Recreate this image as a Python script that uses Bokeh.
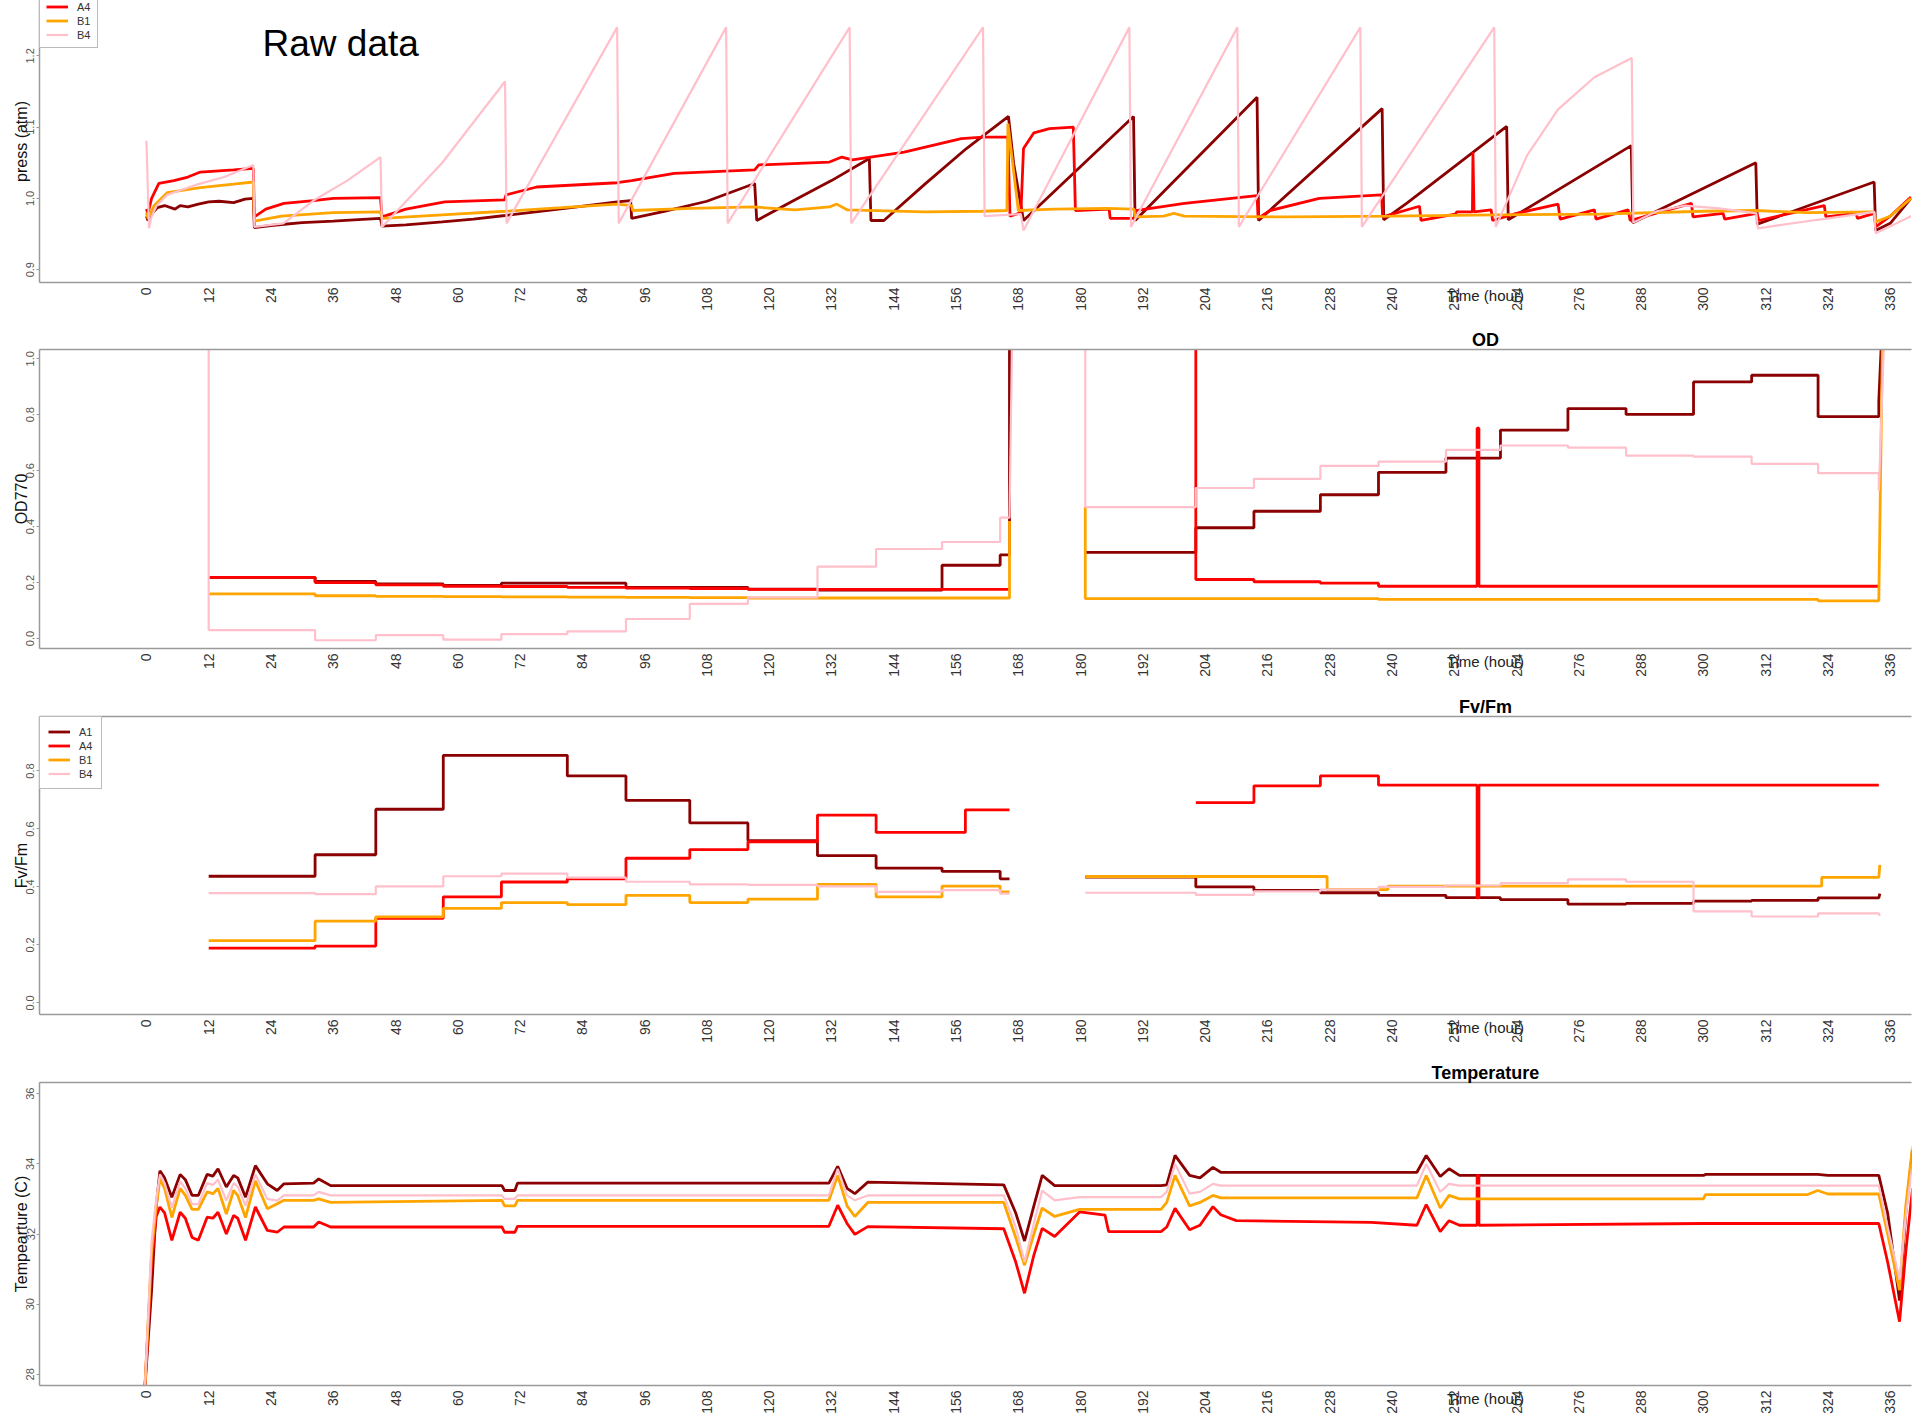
import math
from bokeh.plotting import figure
from bokeh.models import (Range1d, FixedTicker, LinearAxis, Label, Legend,
                          LegendItem, PrintfTickFormatter)
from bokeh.layouts import column
from bokeh.embed import file_html
from bokeh.resources import INLINE

NAN = float("nan")

# ---------------- series / ticks ----------------
names = ["A1", "A4", "B1", "B4"]
colors = ["#8b0000", "#ff0000", "#ffa500", "#ffc0cb"]
widths = [2.8, 2.8, 2.8, 2.2]
x_ticks = list(range(0, 337, 12))
label_pos = 258          # hour at which panel titles / "Time (hour)" are centred

# ---------------- pressure (atm) ----------------
press_A1_t = [0.0, 0.3, 1.0, 2.1, 3.5, 5.5, 6.5, 8.0, 10.0, 12.0, 14.0, 16.8, 19.0, 20.6, 20.8, 24.0, 30.0, 36.0, 40.0, 45.1, 45.4, 50.0, 57.0, 63.0, 69.1, 75.0, 83.0, 90.7, 93.3, 93.5, 100.0, 108.0, 117.2, 117.6, 125.0, 132.0, 139.3, 139.6, 142.1, 150.0, 158.0, 166.1, 167.1, 169.0, 190.2, 190.5, 214.0, 214.3, 238.1, 238.4, 243.0, 262.1, 262.4, 286.1, 286.4, 310.1, 310.4, 332.9, 333.2, 336.0, 340.0]
press_A1_v = [0.975, 0.969, 0.978, 0.987, 0.990, 0.985, 0.990, 0.988, 0.992, 0.995, 0.996, 0.994, 0.999, 1.000, 0.959, 0.962, 0.966, 0.968, 0.970, 0.972, 0.961, 0.963, 0.967, 0.971, 0.976, 0.981, 0.988, 0.995, 0.997, 0.972, 0.982, 0.996, 1.021, 0.969, 0.998, 1.025, 1.056, 0.969, 0.969, 1.020, 1.070, 1.115, 1.049, 0.969, 1.115, 0.969, 1.142, 0.969, 1.126, 0.970, 0.994, 1.101, 0.970, 1.074, 0.966, 1.050, 0.964, 1.023, 0.955, 0.965, 1.000]

press_A4_t = [0.0, 0.3, 1.0, 2.4, 5.3, 8.0, 10.4, 16.8, 20.6, 20.8, 23.0, 26.5, 32.2, 36.0, 45.1, 45.4, 50.0, 57.5, 69.0, 69.3, 75.2, 90.7, 93.5, 101.7, 117.2, 118.0, 131.6, 134.0, 136.0, 146.0, 157.0, 161.2, 166.0, 166.4, 168.5, 169.0, 171.0, 174.0, 178.6, 179.0, 185.5, 185.7, 190.3, 190.6, 200.0, 214.0, 214.2, 216.5, 226.0, 238.0, 238.2, 245.3, 245.6, 252.2, 252.5, 255.5, 255.6, 255.8, 259.1, 259.4, 264.0, 272.0, 272.4, 279.0, 279.3, 285.5, 285.9, 297.7, 298.0, 303.8, 304.1, 310.3, 310.7, 323.3, 323.6, 329.4, 329.7, 332.9, 333.2, 336.0, 340.0]
press_A4_v = [0.985, 0.979, 1.000, 1.021, 1.025, 1.030, 1.037, 1.040, 1.042, 0.974, 0.985, 0.993, 0.997, 1.000, 1.001, 0.974, 0.985, 0.995, 0.998, 1.005, 1.016, 1.022, 1.025, 1.035, 1.040, 1.047, 1.051, 1.058, 1.054, 1.065, 1.084, 1.086, 1.086, 0.975, 0.980, 1.070, 1.092, 1.098, 1.100, 0.983, 0.985, 0.972, 0.972, 0.983, 0.993, 1.004, 0.972, 0.983, 1.000, 1.005, 0.974, 0.989, 0.969, 0.978, 0.981, 0.981, 1.065, 0.981, 0.984, 0.969, 0.979, 0.992, 0.971, 0.984, 0.971, 0.984, 0.969, 0.993, 0.974, 0.979, 0.971, 0.979, 0.969, 0.990, 0.974, 0.979, 0.972, 0.979, 0.960, 0.975, 1.002]

press_B1_t = [0.0, 0.3, 1.5, 4.0, 10.4, 16.8, 20.6, 20.8, 26.0, 36.0, 45.1, 45.4, 57.0, 69.1, 80.0, 90.7, 93.5, 93.7, 105.0, 117.0, 125.0, 131.6, 133.0, 135.0, 150.0, 161.0, 165.8, 166.0, 168.0, 175.0, 185.0, 190.3, 190.5, 196.0, 198.0, 200.0, 220.0, 240.0, 260.0, 280.0, 300.0, 310.0, 320.0, 332.9, 333.2, 336.0, 340.0]
press_B1_v = [0.980, 0.972, 0.990, 1.008, 1.015, 1.020, 1.023, 0.968, 0.975, 0.980, 0.981, 0.972, 0.977, 0.982, 0.987, 0.992, 0.990, 0.983, 0.986, 0.988, 0.984, 0.988, 0.992, 0.984, 0.981, 0.982, 0.983, 1.105, 0.983, 0.985, 0.986, 0.985, 0.974, 0.975, 0.979, 0.975, 0.974, 0.975, 0.977, 0.978, 0.982, 0.983, 0.980, 0.981, 0.967, 0.975, 1.000]

press_B4_t = [0.0, 0.5, 1.0, 2.0, 4.0, 6.0, 10.0, 15.0, 20.6, 20.8, 26.4, 32.2, 38.7, 45.1, 45.4, 57.0, 69.1, 69.4, 90.7, 91.0, 111.7, 112.0, 135.5, 135.8, 161.2, 161.5, 168.5, 169.0, 189.4, 189.7, 210.2, 210.5, 233.9, 234.2, 259.7, 260.0, 266.0, 272.0, 279.0, 286.2, 286.5, 291.0, 296.5, 303.0, 310.2, 310.5, 322.0, 332.9, 333.2, 340.0]
press_B4_v = [1.081, 0.958, 0.975, 0.990, 1.005, 1.010, 1.020, 1.030, 1.047, 0.960, 0.965, 0.997, 1.025, 1.058, 0.960, 1.050, 1.164, 0.965, 1.240, 0.965, 1.240, 0.965, 1.240, 0.965, 1.240, 0.975, 0.978, 0.955, 1.240, 0.960, 1.240, 0.960, 1.240, 0.960, 1.240, 0.960, 1.060, 1.125, 1.170, 1.197, 0.966, 0.982, 0.990, 0.986, 0.979, 0.958, 0.970, 0.981, 0.951, 0.975]

# ---------------- OD770 (step measurements) ----------------
od_pre_t = [12.0, 32.5, 44.2, 57.2, 68.4, 81.1, 92.4, 104.7, 115.9, 129.3, 140.6, 153.3, 164.5, 166.3]
od_post_t = [180.9, 202.2, 213.4, 226.2, 237.4, 250.4, 260.9, 273.9, 285.1, 298.1, 309.3, 322.1, 333.8]
od_A1_pre = [0.219, 0.204, 0.195, 0.190, 0.198, 0.198, 0.183, 0.183, 0.177, 0.173, 0.173, 0.262, 0.299]
od_A4_pre = [0.219, 0.200, 0.192, 0.187, 0.186, 0.183, 0.180, 0.179, 0.176, 0.176, 0.176, 0.176, 0.176]
od_B1_pre = [0.160, 0.153, 0.151, 0.150, 0.149, 0.148, 0.147, 0.146, 0.145, 0.145, 0.145, 0.145, 0.145]
od_B4_pre = [0.030, -0.006, 0.012, -0.004, 0.016, 0.026, 0.070, 0.124, 0.147, 0.257, 0.320, 0.345, 0.432]
od_A1_post = [0.308, 0.396, 0.455, 0.514, 0.594, 0.645, 0.745, 0.822, 0.801, 0.917, 0.941, 0.793]
od_A4_post_t = [202.2, 213.4, 226.2, 237.4, 333.8]
od_A4_post = [0.211, 0.203, 0.198, 0.187]
od_B1_post_t = [180.9, 237.4, 322.1, 333.8]
od_B1_post = [0.143, 0.140, 0.135]
od_B4_post = [0.470, 0.538, 0.571, 0.617, 0.632, 0.674, 0.690, 0.682, 0.654, 0.650, 0.624, 0.591]
od_off = 1.06          # readings above the top of the panel
od_B1_jump = 0.42
od_B1_start = 0.47
od_A1_end = 0.85
od_B4_end = 0.527

# ---------------- Fv/Fm ----------------
fv_pre_t = od_pre_t
fv_post_t = od_post_t
fv_A1_pre = [0.437, 0.511, 0.668, 0.854, 0.854, 0.783, 0.699, 0.621, 0.560, 0.508, 0.465, 0.454, 0.428]
fv_A4_pre_t = [12.0, 32.5, 44.2, 57.2, 68.4, 81.1, 92.4, 104.7, 115.9, 129.3, 140.6, 157.8, 166.3]
fv_A4_pre = [0.189, 0.196, 0.292, 0.366, 0.417, 0.428, 0.499, 0.529, 0.556, 0.648, 0.588, 0.666]
fv_B1_pre = [0.215, 0.282, 0.297, 0.326, 0.346, 0.339, 0.371, 0.346, 0.358, 0.409, 0.366, 0.403, 0.383]
fv_B4_pre = [0.379, 0.375, 0.402, 0.437, 0.446, 0.432, 0.418, 0.409, 0.407, 0.402, 0.383, 0.389, 0.377]
fv_A1_post = [0.434, 0.400, 0.388, 0.380, 0.371, 0.363, 0.356, 0.341, 0.343, 0.351, 0.354, 0.362]
fv_A4_post_t = [202.2, 213.4, 226.2, 237.4, 333.8]
fv_A4_post = [0.691, 0.749, 0.783, 0.751]
fv_B1_post_t = [180.9, 227.5, 239.2, 322.8, 333.8]
fv_B1_post = [0.436, 0.391, 0.403, 0.433]
fv_B4_post = [0.380, 0.373, 0.385, 0.391, 0.400, 0.405, 0.413, 0.426, 0.418, 0.316, 0.298, 0.309]
fv_end = [0.377, None, 0.476, 0.300]

# ---------------- Temperature (C) ----------------
temp_t = [-0.3, 1.0, 1.9, 2.6, 3.5, 4.9, 6.5, 7.5, 8.8, 10.0, 11.7, 12.8, 13.8, 15.4, 16.8, 17.6, 19.1, 21.0, 23.3, 25.2, 26.5, 32.2, 33.2, 35.5, 68.5, 69.0, 71.0, 71.5, 131.5, 133.2, 135.0, 136.5, 139.0, 165.2, 167.5, 169.2, 171.0, 172.6, 175.0, 179.8, 184.7, 185.4, 195.5, 196.6, 198.2, 201.0, 203.0, 205.5, 207.0, 210.0, 236.0, 244.8, 246.6, 249.3, 251.0, 253.0, 300.0, 300.4, 320.0, 322.0, 324.0, 333.8, 335.5, 337.8, 339.0, 340.3]
temp_A1 = [27.6, 30.4, 32.8, 33.8, 33.6, 33.05, 33.7, 33.55, 33.1, 33.1, 33.7, 33.65, 33.86, 33.34, 33.67, 33.6, 33.05, 33.95, 33.43, 33.24, 33.43, 33.45, 33.57, 33.38, 33.38, 33.24, 33.24, 33.45, 33.45, 33.93, 33.3, 33.15, 33.48, 33.4, 32.6, 31.8, 32.8, 33.67, 33.38, 33.38, 33.38, 33.38, 33.38, 33.4, 34.24, 33.67, 33.6, 33.9, 33.76, 33.76, 33.76, 33.76, 34.24, 33.64, 33.86, 33.67, 33.67, 33.7, 33.7, 33.7, 33.67, 33.67, 32.6, 30.1, 32.6, 34.4]
temp_A4 = [27.6, 31.2, 32.5, 32.77, 32.6, 31.82, 32.62, 32.45, 31.9, 31.82, 32.48, 32.45, 32.62, 32.0, 32.53, 32.45, 31.82, 32.77, 32.1, 32.05, 32.2, 32.2, 32.34, 32.2, 32.2, 32.05, 32.05, 32.22, 32.22, 32.82, 32.3, 31.99, 32.21, 32.15, 31.2, 30.31, 31.4, 32.16, 31.93, 32.63, 32.54, 32.07, 32.07, 32.2, 32.73, 32.12, 32.25, 32.78, 32.55, 32.38, 32.33, 32.25, 32.84, 32.07, 32.38, 32.25, 32.3, 32.3, 32.3, 32.3, 32.3, 32.3, 31.2, 29.5, 31.5, 33.3]
temp_B1 = [27.6, 31.5, 32.8, 33.57, 33.3, 32.47, 33.3, 33.1, 32.7, 32.7, 33.2, 33.15, 33.3, 32.57, 33.24, 33.1, 32.47, 33.52, 32.72, 32.86, 32.96, 32.96, 33.0, 32.9, 32.96, 32.8, 32.8, 32.96, 32.96, 33.67, 32.8, 32.5, 32.9, 32.9, 31.9, 31.11, 32.0, 32.74, 32.5, 32.7, 32.7, 32.7, 32.7, 32.9, 33.67, 32.8, 32.9, 33.1, 33.03, 33.03, 33.03, 33.03, 33.67, 32.74, 33.1, 33.0, 33.0, 33.12, 33.12, 33.24, 33.14, 33.14, 32.0, 30.4, 32.8, 34.5]
temp_B4 = [27.6, 31.8, 33.0, 33.7, 33.45, 32.75, 33.5, 33.3, 32.85, 32.85, 33.45, 33.4, 33.55, 32.95, 33.45, 33.35, 32.8, 33.7, 33.0, 32.95, 33.1, 33.1, 33.2, 33.1, 33.1, 33.0, 33.0, 33.1, 33.1, 33.86, 33.1, 32.96, 33.1, 33.1, 32.2, 31.2, 32.3, 33.24, 32.96, 33.05, 33.05, 33.05, 33.05, 33.2, 34.0, 33.15, 33.2, 33.43, 33.38, 33.38, 33.38, 33.38, 34.0, 33.2, 33.43, 33.38, 33.38, 33.38, 33.38, 33.38, 33.38, 33.38, 32.2, 30.7, 32.5, 34.0]

# A4 reading glitch (takes A1's value briefly)
glitch_t = 256.4
glitch_od = 0.752
glitch_fv = 0.362
glitch_temp = 33.67

# ---------------- helpers ----------------
def stepline(ts, vs, pre=None, post=()):
    xs, ys = [], []
    if pre is not None:
        xs.append(ts[0]); ys.append(pre)
    for i, v in enumerate(vs):
        xs += [ts[i], ts[i + 1]]
        ys += [v, v]
    for pt, pv in post:
        xs.append(pt); ys.append(pv)
    return xs, ys


def join(a, b):
    return a[0] + [NAN] + b[0], a[1] + [NAN] + b[1]


def with_spike(xy, t, v, w=0.35):
    xs, ys = xy
    i = next(k for k in range(len(xs)) if xs[k] == xs[k] and xs[k] > t)
    base = ys[i - 1]
    return (xs[:i] + [t, t, t + w, t + w] + xs[i:],
            ys[:i] + [base, v, v, base] + ys[i:])


FONT = "Liberation Sans"
AX = "#9a9a9a"
W = 1915


def make_fig(h, bt, bb, yr, yticks, fmt, ylab, title=None):
    p = figure(width=W, height=h, x_range=Range1d(-20.6, 340.1), y_range=Range1d(*yr),
               output_backend="svg", toolbar_location=None,
               min_border_left=39, min_border_right=4,
               min_border_top=bt, min_border_bottom=bb)
    p.background_fill_color = "white"
    p.border_fill_color = "white"
    p.outline_line_color = None
    p.xgrid.visible = False
    p.ygrid.visible = False
    xa = p.xaxis[0]
    xa.ticker = FixedTicker(ticks=x_ticks)
    xa.formatter = PrintfTickFormatter(format="%d")
    xa.major_label_orientation = math.pi / 2
    xa.major_label_text_font = FONT
    xa.major_label_text_font_size = "14px"
    xa.major_label_text_color = "#333333"
    xa.major_label_standoff = 5
    xa.major_tick_out = 0
    xa.major_tick_in = 0
    xa.major_tick_line_color = None
    xa.minor_tick_line_color = None
    xa.axis_line_color = AX
    xa.axis_line_width = 1.5
    # "Time (hour)" written over the tick labels, centred at hour 258
    tx = LinearAxis(ticker=FixedTicker(ticks=[label_pos]),
                    major_label_overrides={label_pos: "Time (hour)"},
                    axis_line_color=None, major_tick_line_color=None,
                    minor_tick_line_color=None, major_tick_out=0, major_tick_in=0,
                    major_label_standoff=-27, major_label_orientation="horizontal",
                    major_label_text_font=FONT, major_label_text_font_size="15px",
                    major_label_text_color="#222222")
    p.add_layout(tx, "below")
    ya = p.yaxis[0]
    ya.ticker = FixedTicker(ticks=yticks)
    ya.formatter = PrintfTickFormatter(format=fmt)
    ya.major_label_orientation = "vertical"
    ya.major_label_text_font = FONT
    ya.major_label_text_font_size = "11px"
    ya.major_label_text_color = "#555555"
    ya.major_label_standoff = 2
    ya.major_tick_out = 3
    ya.major_tick_in = 0
    ya.major_tick_line_color = AX
    ya.minor_tick_line_color = None
    ya.axis_line_color = AX
    ya.axis_line_width = 1.5
    ya.axis_label = ylab
    ya.axis_label_text_font = FONT
    ya.axis_label_text_font_size = "16px"
    ya.axis_label_text_font_style = "normal"
    ya.axis_label_text_color = "#111111"
    ya.axis_label_standoff = -6
    if title is not None:
        ta = LinearAxis(ticker=FixedTicker(ticks=[label_pos]),
                        major_label_overrides={label_pos: title},
                        axis_line_color=AX, axis_line_width=1.5,
                        major_tick_line_color=None, minor_tick_line_color=None,
                        major_tick_out=0, major_tick_in=0, major_label_standoff=0,
                        major_label_orientation="horizontal",
                        major_label_text_font=FONT, major_label_text_font_size="18px",
                        major_label_text_font_style="bold", major_label_text_color="#000000")
        p.add_layout(ta, "above")
    return p


def style_legend(lg, pad):
    lg.label_text_font = FONT
    lg.label_text_font_size = "11px"
    lg.label_text_color = "#333333"
    lg.glyph_width = 22
    lg.glyph_height = 13
    lg.label_height = 13
    lg.label_width = 14
    lg.label_standoff = 9
    lg.spacing = 1
    lg.padding = pad
    lg.margin = 0
    lg.border_line_color = "#777777"
    lg.border_line_width = 1
    lg.background_fill_color = "white"
    lg.background_fill_alpha = 1.0


# ---------------- panel 1: pressure ----------------
p1 = make_fig(326, 0, 44, (0.882, 1.2777), [0.9, 1.0, 1.1, 1.2], "%.1f", "press (atm)")
press = [(press_A1_t, press_A1_v), (press_A4_t, press_A4_v),
         (press_B1_t, press_B1_v), (press_B4_t, press_B4_v)]
r1 = []
for (t, v), c, w in zip(press, colors, widths):
    r1.append(p1.line(t, v, line_color=c, line_width=w))
# legend box runs off the top edge of the picture: only A4, B1, B4 rows are in view
leg1 = Legend(items=[LegendItem(label=n, renderers=[r]) for n, r in zip(names[1:], r1[1:])],
              location=(0, 234))
style_legend(leg1, 6)
p1.add_layout(leg1)
p1.add_layout(Label(x=223, y=239, x_units="screen", y_units="screen", text="Raw data",
                    text_align="left", text_baseline="alphabetic", text_font=FONT,
                    text_font_size="37px", text_color="#000000"))

# ---------------- panel 2: OD ----------------
p2 = make_fig(367, 21, 45, (-0.0355, 1.033), [0.0, 0.2, 0.4, 0.6, 0.8, 1.0], "%.1f",
              "OD770", "OD")
od_lines = [
    join(stepline(od_pre_t, od_A1_pre, post=[(166.3, od_off)]),
         stepline(od_post_t, od_A1_post, post=[(333.8, od_A1_end), (334.3, od_off)])),
    with_spike(join(stepline(od_pre_t, od_A4_pre),
                    stepline(od_A4_post_t, od_A4_post, pre=od_off)), glitch_t, glitch_od),
    join(stepline(od_pre_t, od_B1_pre, post=[(166.3, od_B1_jump)]),
         stepline(od_B1_post_t, od_B1_post, pre=od_B1_start, post=[(334.5, od_off)])),
    join(stepline(od_pre_t, od_B4_pre, pre=od_off, post=[(166.8, od_off)]),
         stepline(od_post_t, od_B4_post, pre=od_off, post=[(333.8, od_B4_end), (334.8, od_off)])),
]
for (x, y), c, w in zip(od_lines, colors, widths):
    p2.line(x, y, line_color=c, line_width=w)

# ---------------- panel 3: Fv/Fm ----------------
p3 = make_fig(366, 21, 45, (-0.040, 0.988), [0.0, 0.2, 0.4, 0.6, 0.8], "%.1f",
              "Fv/Fm", "Fv/Fm")
fv_lines = [
    join(stepline(fv_pre_t, fv_A1_pre),
         stepline(fv_post_t, fv_A1_post, post=[(334.0, fv_end[0])])),
    with_spike(join(stepline(fv_A4_pre_t, fv_A4_pre),
                    stepline(fv_A4_post_t, fv_A4_post)), glitch_t, glitch_fv),
    join(stepline(fv_pre_t, fv_B1_pre),
         stepline(fv_B1_post_t, fv_B1_post, post=[(334.0, fv_end[2])])),
    join(stepline(fv_pre_t, fv_B4_pre),
         stepline(fv_post_t, fv_B4_post, post=[(334.0, fv_end[3])])),
]
for (x, y), c, w, n in zip(fv_lines, colors, widths, names):
    p3.line(x, y, line_color=c, line_width=w, legend_label=n)
style_legend(p3.legend[0], 8)
p3.legend.location = "top_left"

# ---------------- panel 4: Temperature ----------------
p4 = make_fig(361, 21, 35, (27.68, 36.32), [28, 30, 32, 34, 36], "%d",
              "Tempearture (C)", "Temperature")
temps = [(temp_t, temp_A1), with_spike((temp_t, temp_A4), glitch_t, glitch_temp),
         (temp_t, temp_B1), (temp_t, temp_B4)]
for (x, y), c, w in zip(temps, colors, widths):
    p4.line(x, y, line_color=c, line_width=w)

layout = column(p1, p2, p3, p4, spacing=0)
open("out.html", "w").write(file_html(layout, INLINE))
